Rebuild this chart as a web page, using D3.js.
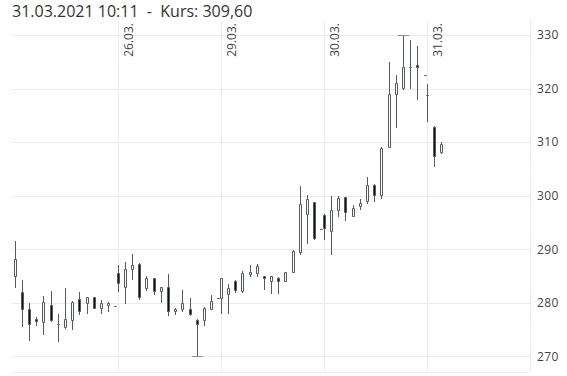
<!DOCTYPE html>
<html>
<head>
<meta charset="utf-8">
<script src="https://cdn.jsdelivr.net/npm/d3@7"></script>
<style>
  body { margin: 0; background: #fff; }
  svg { display: block; font-family: "Open Sans", sans-serif; }
</style>
</head>
<body>
<div class="candle-chart"></div>
<script>
const width = 567, height = 376;

// header
const title = '31.03.2021 10:11  -  Kurs: 309,60';

// trading days (x categories) and hourly slots 08:00 .. 22:00
const days = ['25.03.', '26.03.', '29.03.', '30.03.', '31.03.'];
const hours = [8, 9, 10, 11, 12, 13, 14, 15, 16, 17, 18, 19, 20, 21, 22];
const yTicks = [270, 280, 290, 300, 310, 320, 330];

// [open, high, low, close] per hour
const day25 = [
    [285.0, 291.5, 283.0, 288.1], [282.05, 284.2, 275.7, 278.9], [278.9, 279.9, 273.0, 276.1],
    [277.0, 277.3, 275.8, 276.7], [276.5, 281.2, 274.2, 280.25], [279.6, 282.3, 276.7, 276.8],
    [276.1, 278.0, 272.9, 276.1], [275.5, 282.8, 275.4, 277.0], [276.9, 280.3, 275.2, 280.25],
    [280.75, 282.1, 278.0, 278.5], [280.0, 281.1, 278.1, 281.1], [281.1, 281.1, 279.0, 279.1],
    [279.1, 280.6, 278.1, 280.0], [279.6, 280.1, 278.45, 280.0], [279.45, 279.45, 279.45, 279.45]
];
const day26 = [
    [285.6, 287.0, 282.2, 283.7], [283.0, 287.65, 280.0, 286.35], [286.35, 289.2, 284.5, 287.15],
    [287.3, 287.4, 280.8, 281.1], [282.7, 285.0, 282.5, 284.65], [284.65, 284.7, 281.7, 282.3],
    [282.2, 283.0, 280.1, 283.0], [283.0, 285.3, 277.8, 278.45], [278.45, 279.0, 278.0, 278.95],
    [278.8, 282.5, 278.45, 279.9], [278.9, 280.9, 277.65, 278.0], [276.9, 277.0, 270.1, 276.1],
    [276.9, 279.2, 275.8, 279.1], [278.95, 281.4, 278.9, 280.3], [280.9, 280.9, 280.9, 280.9]
];
const day29 = [
    [280.9, 284.7, 278.1, 284.65], [281.7, 283.6, 278.1, 282.8], [284.05, 284.3, 282.0, 282.5],
    [282.2, 285.9, 282.0, 285.5], [285.35, 287.0, 285.1, 285.85], [285.5, 287.35, 285.0, 286.85],
    [285.0, 285.1, 282.6, 284.6], [284.05, 285.1, 281.9, 285.1], [284.65, 284.85, 281.9, 284.05],
    [284.05, 285.8, 284.0, 285.8], [285.8, 289.9, 285.7, 289.6], [289.45, 301.9, 289.1, 298.5],
    [296.65, 300.2, 291.2, 299.4], [298.8, 298.9, 292.0, 292.1], [293.7, 293.7, 293.7, 293.7]
];
const day30 = [
    [296.45, 296.5, 291.9, 293.95], [293.5, 299.9, 289.15, 297.4], [297.4, 299.9, 296.15, 299.6],
    [299.7, 299.8, 295.4, 297.0], [296.3, 298.3, 296.3, 297.7], [298.1, 299.4, 297.6, 298.6],
    [298.95, 303.5, 298.6, 302.05], [302.05, 302.1, 299.1, 300.1], [300.2, 309.0, 299.6, 308.9],
    [309.1, 324.9, 309.0, 319.0], [319.0, 322.5, 312.9, 321.1], [320.05, 330.0, 320.0, 324.0],
    [324.0, 329.1, 320.05, 324.0], [324.4, 327.95, 318.0, 324.0], [322.55, 322.55, 322.55, 322.55]
];
const day31 = [
    [318.8, 320.9, 313.85, 318.7], [312.9, 313.0, 305.6, 307.45], [308.1, 310.1, 308.0, 309.6]
];

const SESSION = 14.33; // axis length of one trading day in hours (incl. the night gap)

let candles = [];
[day25, day26, day29, day30, day31].forEach(function (rows, d) {
    rows.forEach(function (r, i) {
        candles.push({day: d, hour: hours[i], o: r[0], h: r[1], l: r[2], c: r[3]});
    });
});

let svg = d3.select('.candle-chart')
    .append('svg')
    .attr('width', width)
    .attr('height', height);

let pLeft = 11, pRight = 530, pTop = 21, pBottom = 371.5;

let x_scale = d3.scaleLinear()
    .domain([-0.5, days.length * SESSION])
    .range([pLeft, pRight]);
let y_scale = d3.scaleLinear()
    .domain([267.2, 332.6])
    .range([pBottom, pTop]);
let xPos = d => x_scale(d.day * SESSION + d.hour - 8);
let crisp = v => Math.round(v) + 0.5;

svg.append('text')
    .attr('x', 12)
    .attr('y', 17)
    .attr('fill', '#333')
    .style('font-size', '16px')
    .style('white-space', 'pre')
    .text(title);

// grid
let gridColor = '#ebebeb';
svg.append('g')
    .selectAll('line')
    .data(yTicks)
    .join('line')
    .attr('x1', pLeft).attr('x2', pRight)
    .attr('y1', d => crisp(y_scale(d))).attr('y2', d => crisp(y_scale(d)))
    .attr('stroke', gridColor);
let dayTicks = d3.range(1, days.length);
svg.append('g')
    .selectAll('line')
    .data(dayTicks)
    .join('line')
    .attr('x1', d => crisp(x_scale(d * SESSION))).attr('x2', d => crisp(x_scale(d * SESSION)))
    .attr('y1', pTop).attr('y2', pBottom)
    .attr('stroke', gridColor);
svg.append('line')
    .attr('x1', crisp(pRight)).attr('x2', crisp(pRight))
    .attr('y1', 20).attr('y2', pBottom)
    .attr('stroke', gridColor);
svg.append('line')
    .attr('x1', pLeft).attr('x2', pRight)
    .attr('y1', crisp(pBottom)).attr('y2', crisp(pBottom))
    .attr('stroke', gridColor);

// y labels
svg.append('g')
    .selectAll('text')
    .data(yTicks)
    .join('text')
    .attr('x', 537)
    .attr('y', d => y_scale(d))
    .attr('dy', '0.35em')
    .attr('fill', '#444')
    .style('font-size', '12px')
    .style('letter-spacing', '0.4px')
    .text(d => d);

// day labels, rotated
svg.append('g')
    .selectAll('text')
    .data(dayTicks)
    .join('text')
    .attr('transform', d => `translate(${x_scale(d * SESSION) + 15.5}, ${23}) rotate(-90)`)
    .attr('text-anchor', 'end')
    .attr('fill', '#444')
    .style('font-size', '12px')
    .text(d => days[d]);

// candles
let stroke = '#535b60';
let g = svg.append('g');
g.selectAll('line.wick')
    .data(candles)
    .join('line')
    .attr('class', 'wick')
    .attr('x1', d => crisp(xPos(d))).attr('x2', d => crisp(xPos(d)))
    .attr('y1', d => Math.round(y_scale(d.h))).attr('y2', d => Math.round(y_scale(d.l)) + 1)
    .attr('stroke', stroke);
// bodies as paths so that open == close still shows a tick
g.selectAll('path.body')
    .data(candles)
    .join('path')
    .attr('class', 'body')
    .attr('d', function (d) {
        let x0 = Math.round(xPos(d)) - 0.5;
        let y0 = crisp(y_scale(Math.max(d.o, d.c)));
        let y1 = crisp(y_scale(Math.min(d.o, d.c)));
        return `M${x0},${y0}H${x0 + 2}V${y1}H${x0}Z`;
    })
    .attr('fill', d => d.c >= d.o ? '#fff' : '#111')
    .attr('stroke', stroke);

// period high / low markers
let hi = candles.reduce((a, b) => b.h > a.h ? b : a);
let lo = candles.reduce((a, b) => b.l < a.l ? b : a);
g.selectAll('line.mark')
    .data([[hi, hi.h], [lo, lo.l]])
    .join('line')
    .attr('class', 'mark')
    .attr('x1', d => Math.round(xPos(d[0])) - 5).attr('x2', d => Math.round(xPos(d[0])) + 6)
    .attr('y1', d => crisp(y_scale(d[1]))).attr('y2', d => crisp(y_scale(d[1])))
    .attr('stroke', '#8a9094');
</script>
</body>
</html>
